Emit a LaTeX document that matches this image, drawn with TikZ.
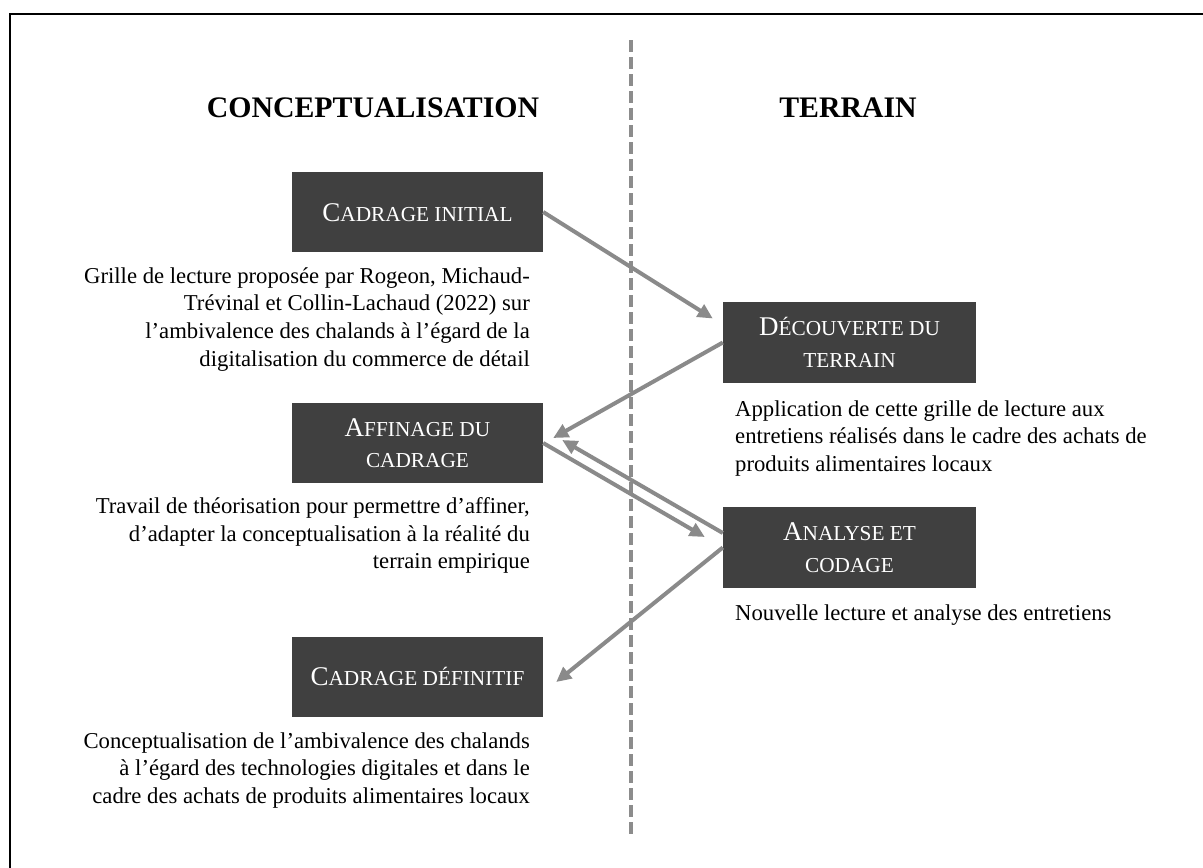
\documentclass[tikz,border=0pt]{standalone}
\usepackage{fontspec}
\setmainfont{Liberation Serif}
\usetikzlibrary{arrows.meta,calc}
\definecolor{boxgray}{RGB}{64,64,64}
\definecolor{arrgray}{RGB}{138,138,138}
\definecolor{dashgray}{RGB}{140,140,140}
\newcommand\bodyfnt{\fontsize{22.7}{27.7}\selectfont}
\newcommand\boxfnt{\fontsize{21.3}{31.5}\selectfont}
\newcommand\headfnt{\fontsize{29.8}{34}\selectfont\bfseries}
\newcommand\sck[1]{{\fontsize{27}{31.5}\selectfont #1}}
\newcommand\boxtxt[1]{\raisebox{-2.7pt}[\height][\depth]{\begin{tabular}{@{}c@{}}#1\end{tabular}}}
\newcommand\rtxt[1]{\begin{tabular}[t]{@{}r@{}}#1\end{tabular}}
\newcommand\ltxt[1]{\begin{tabular}[t]{@{}l@{}}#1\end{tabular}}
\tikzset{
  stepbox/.style={fill=boxgray, draw=none, text=white, inner sep=0pt,
    minimum width=251, minimum height=80, font=\boxfnt},
  rstepbox/.style={stepbox, minimum width=253, minimum height=81},
  body/.style={inner sep=0pt, font=\bodyfnt, text=black},
  head/.style={inner sep=0pt, font=\headfnt, text=black, anchor=base},
  flow/.style={draw=arrgray, line width=4pt, -{Triangle[length=15pt,width=14pt]}},
  sep/.style={draw=dashgray, line width=3.5pt, dash pattern=on 12pt off 5pt},
  frame/.style={draw=black, line width=2.5pt}
}
\begin{document}
\begin{tikzpicture}[x=1pt,y=-1pt]
\useasboundingbox (0,0) rectangle (1203,868);
% frame (only top and left edges visible)
\draw[frame] (10,868) -- (10,14) -- (1203,14);
% separator
\draw[sep] (631,40) -- (631,835);
% headings
\node[head] (hconc) at (373,117) {CONCEPTUALISATION};
\node[head] (hterr) at (848,117) {TERRAIN};
% boxes
\node[stepbox] (ci) at (417.5,212) {\boxtxt{\sck{C}ADRAGE INITIAL}};
\node[rstepbox] (dt) at (849.5,342.5) {\boxtxt{\sck{D}ÉCOUVERTE DU\\TERRAIN}};
\node[stepbox] (ad) at (417.5,443) {\boxtxt{\sck{A}FFINAGE DU\\CADRAGE}};
\node[rstepbox] (ac) at (849.5,547.5) {\boxtxt{\sck{A}NALYSE ET\\CODAGE}};
\node[stepbox] (cd) at (417.5,676.5) {\boxtxt{\sck{C}ADRAGE DÉFINITIF}};
% descriptions
\node[body, anchor=base east] (t1) at (530,283) {\rtxt{Grille de lecture proposée par Rogeon, Michaud-\\Trévinal et Collin-Lachaud (2022) sur\\l’ambivalence des chalands à l’égard de la\\digitalisation du commerce de détail}};
\node[body, anchor=base west] (t2) at (735,416) {\ltxt{Application de cette grille de lecture aux\\entretiens réalisés dans le cadre des achats de\\produits alimentaires locaux}};
\node[body, anchor=base east] (t3) at (530,513.5) {\rtxt{Travail de théorisation pour permettre d’affiner,\\d’adapter la conceptualisation à la réalité du\\terrain empirique}};
\node[body, anchor=base west] (t4) at (735,620) {\ltxt{Nouvelle lecture et analyse des entretiens}};
\node[body, anchor=base east] (t5) at (530,748) {\rtxt{Conceptualisation de l’ambivalence des chalands\\à l’égard des technologies digitales et dans le\\cadre des achats de produits alimentaires locaux}};
% connectors
\coordinate (e1) at ($(dt.west)+(-10,-24)$);
\coordinate (e2) at ($(ad.east)+(10,-5)$);
\coordinate (e3) at ($(ac.west)+(-18,-10.5)$);
\coordinate (s4) at ($(ac.west)+(0,-14.5)$);
\coordinate (e4) at ($(ad.east)+(19,-3)$);
\coordinate (e5) at ($(cd.east)+(13,5.5)$);
\draw[flow] (ci.east) -- (e1);
\draw[flow] (dt.west) -- (e2);
\draw[flow] (ad.east) -- (e3);
\draw[flow] (s4) -- (e4);
\draw[flow] (ac.west) -- (e5);
\end{tikzpicture}
\end{document}
